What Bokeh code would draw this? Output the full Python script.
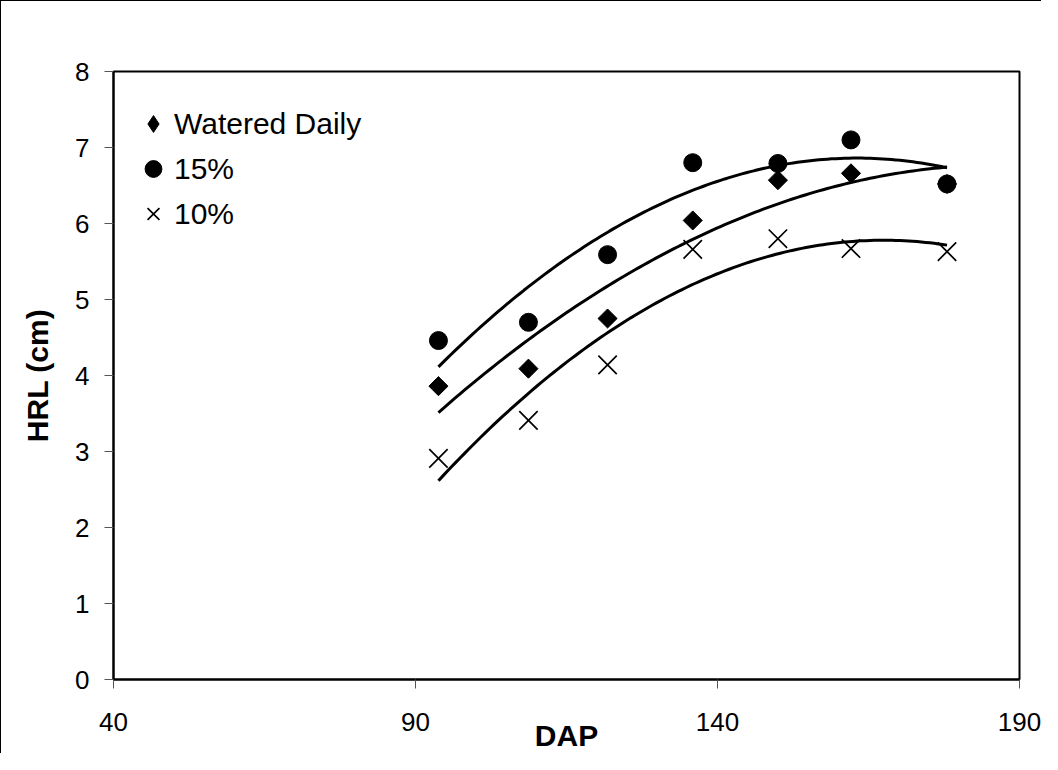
import numpy as np
from bokeh.plotting import figure
from bokeh.models import FixedTicker, Legend, LegendItem
from bokeh.embed import file_html
from bokeh.resources import INLINE

# Data
dap = [93.8, 108.7, 121.8, 135.9, 150.0, 162.1, 178.0]
watered_daily = [3.86, 4.09, 4.75, 6.04, 6.57, 6.66, 6.52]
pct15 = [4.46, 4.70, 5.59, 6.80, 6.79, 7.10, 6.52]
pct10 = [2.91, 3.41, 4.14, 5.66, 5.80, 5.67, 5.63]

x_ticks = [40, 90, 140, 190]
y_ticks = [0, 1, 2, 3, 4, 5, 6, 7, 8]

FONT = "Liberation Sans"

p = figure(width=1041, height=753, output_backend="svg", toolbar_location=None,
           x_range=(40, 190), y_range=(0, 8),
           min_border_left=112, min_border_right=23, min_border_top=70, min_border_bottom=72)
p.styles = {"border-left": "1px solid black", "border-top": "1px solid black"}

p.xgrid.visible = False
p.ygrid.visible = False
p.outline_line_color = "black"
p.outline_line_width = 2
p.background_fill_color = "white"
p.border_fill_color = "white"

for ax in (p.xaxis[0], p.yaxis[0]):
    ax.axis_line_color = "black"
    ax.axis_line_width = 2
    ax.major_tick_line_color = "#555555"
    ax.major_tick_line_width = 1
    ax.major_tick_in = 0
    ax.major_tick_out = 9
    ax.minor_tick_line_color = None
    ax.major_label_text_font = FONT
    ax.major_label_text_font_size = "26px"
    ax.major_label_text_color = "black"
    ax.axis_label_text_font = FONT
    ax.axis_label_text_font_size = "30px"
    ax.axis_label_text_font_style = "bold"
    ax.axis_label_text_color = "black"

p.xaxis.ticker = FixedTicker(ticks=x_ticks)
p.yaxis.ticker = FixedTicker(ticks=y_ticks)
p.xaxis.axis_label = "DAP"
p.yaxis.axis_label = "HRL (cm)"
p.xaxis.major_label_standoff = 24
p.xaxis.major_label_text_line_height = 0.7
p.xaxis.axis_label_standoff = -15
p.yaxis.major_label_standoff = 15
p.yaxis.axis_label_standoff = 18

# quadratic trendlines (as in the original chart)
xs = np.linspace(min(dap), max(dap), 120)
for ys in (pct15, watered_daily, pct10):
    c = np.polyfit(dap, ys, 2)
    p.line(xs, np.polyval(c, xs), line_color="black", line_width=3)

r_wd = p.scatter(dap, watered_daily, marker="square", angle=np.pi / 4, size=13.5,
                 fill_color="black", line_color="black")
r_15 = p.scatter(dap, pct15, marker="circle", size=18, fill_color="black", line_color="black")
r_10 = p.scatter(dap, pct10, marker="x", size=26, line_color="black", line_width=1.7)
# legend-only glyph for the diamond (legend markers ignore angle)
r_wd_leg = p.scatter(dap, watered_daily, marker="diamond", size=0,
                     fill_color="black", line_color="black")

legend = Legend(items=[LegendItem(label="Watered Daily", renderers=[r_wd_leg]),
                       LegendItem(label="15%", renderers=[r_15]),
                       LegendItem(label="10%", renderers=[r_10])],
                location=(19, 443), glyph_width=42, glyph_height=45, spacing=0,
                padding=0, margin=0, label_standoff=0,
                label_text_font=FONT, label_text_font_size="30px", label_text_color="black",
                background_fill_alpha=0, border_line_color=None)
p.add_layout(legend, "center")

open("out.html", "w").write(file_html(p, INLINE))
